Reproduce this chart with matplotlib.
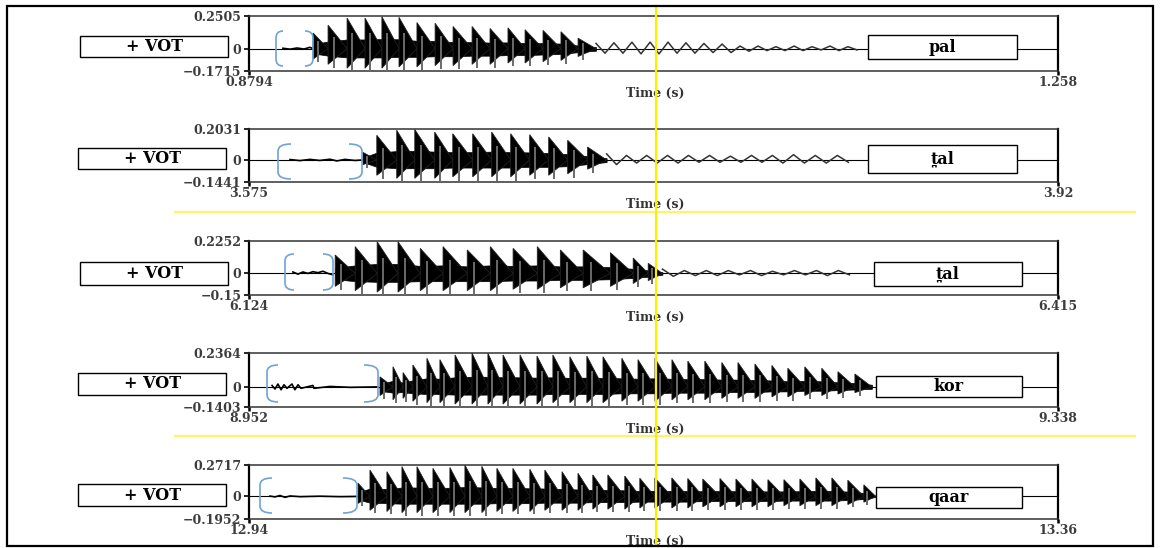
import numpy as np
import matplotlib
matplotlib.use("Agg")
import matplotlib.pyplot as plt
from matplotlib.patches import Rectangle, PathPatch
from matplotlib.path import Path
from matplotlib.lines import Line2D

# ---------------- data ----------------
words = ["pal", "t\u032aal", "t\u032aal", "kor", "qaar"]
vot_label = "+ VOT"
x_start = [0.8794, 3.575, 6.124, 8.952, 12.94]
x_end = [1.258, 3.92, 6.415, 9.338, 13.36]
y_top = [0.2505, 0.2031, 0.2252, 0.2364, 0.2717]
y_bot = [-0.1715, -0.1441, -0.15, -0.1403, -0.1952]
x_tick_labels = [["0.8794", "1.258"], ["3.575", "3.92"], ["6.124", "6.415"],
                 ["8.952", "9.338"], ["12.94", "13.36"]]
y_tick_labels = [["0.2505", "0", "\u22120.1715"], ["0.2031", "0", "\u22120.1441"],
                 ["0.2252", "0", "\u22120.15"], ["0.2364", "0", "\u22120.1403"],
                 ["0.2717", "0", "\u22120.1952"]]
x_label = "Time (s)"

# panel 1 : pal
p1_noise_t = [0.8953, 0.8986, 0.9019, 0.9051, 0.9079, 0.9094]
p1_noise_y = [0.003, -0.004, 0.005, -0.003, 0.01, 0.0]
p1_voiced_t = [0.9094, 0.9164, 0.9253, 0.9337, 0.9416, 0.9496, 0.9580, 0.9665, 0.9749,
               0.9838, 0.9922, 1.0006, 1.0086, 1.0170, 1.0254, 1.0334, 1.0418]
p1_voiced_hi = [0.12, 0.18, 0.235, 0.235, 0.245, 0.24, 0.20, 0.195, 0.17, 0.17, 0.155,
                0.16, 0.145, 0.14, 0.13, 0.08, 0.04]
p1_voiced_lo = [-0.08, -0.12, -0.15, -0.15, -0.15, -0.14, -0.14, -0.13, -0.13, -0.12,
                -0.12, -0.11, -0.11, -0.10, -0.09, -0.06, -0.035]
p1_tail_t = [1.0418, 1.0502, 1.0586, 1.0671, 1.0755, 1.0839, 1.0923, 1.1008, 1.1092,
             1.1176, 1.1260, 1.1345, 1.1429, 1.1513, 1.1597, 1.1682]
p1_tail_hi = [0.04, 0.045, 0.05, 0.05, 0.05, 0.045, 0.04, 0.035, 0.02, 0.02, 0.015,
              0.02, 0.015, 0.02, 0.015, 0.01]
p1_tail_lo = [-0.035, -0.035, -0.04, -0.04, -0.035, -0.035, -0.03, -0.03, -0.02, -0.015,
              -0.015, -0.015, -0.01, -0.015, -0.01, -0.005]

# panel 2 : t̪al
p2_noise_t = [3.5925, 3.5967, 3.6010, 3.6052, 3.6095, 3.6125, 3.6159, 3.6202, 3.6231]
p2_noise_y = [0.003, -0.004, 0.004, -0.003, 0.005, -0.006, 0.004, -0.003, 0.0]
p2_voiced_t = [3.6236, 3.6295, 3.6380, 3.6457, 3.6542, 3.6619, 3.6704, 3.6785, 3.6866,
               3.6947, 3.7028, 3.7109, 3.7194, 3.7275]
p2_voiced_hi = [0.05, 0.162, 0.195, 0.20, 0.183, 0.172, 0.172, 0.183, 0.172, 0.166,
                0.151, 0.129, 0.085, 0.04]
p2_voiced_lo = [-0.03, -0.10, -0.12, -0.12, -0.12, -0.11, -0.11, -0.11, -0.11, -0.10,
                -0.10, -0.09, -0.06, -0.03]
p2_tail_t = [3.7275, 3.7360, 3.7446, 3.7535, 3.7624, 3.7714, 3.7803, 3.7893, 3.7982,
             3.8072, 3.8165, 3.8259, 3.8353]
p2_tail_hi = [0.04, 0.03, 0.03, 0.03, 0.03, 0.03, 0.025, 0.03, 0.03, 0.035, 0.03, 0.03, 0.02]
p2_tail_lo = [-0.03, -0.02, -0.02, -0.02, -0.015, -0.015, -0.015, -0.015, -0.02, -0.02,
              -0.02, -0.015, -0.01]

# panel 3 : t̪al
p3_noise_t = [6.1398, 6.1416, 6.1434, 6.1452, 6.1470, 6.1488, 6.1506, 6.1524, 6.1542]
p3_noise_y = [0.01, -0.005, 0.01, 0.0, 0.012, 0.005, 0.015, 0.0, -0.01]
p3_voiced_t = [6.1550, 6.1622, 6.1701, 6.1776, 6.1856, 6.1938, 6.2025, 6.2108, 6.2190,
               6.2277, 6.2360, 6.2442, 6.2540, 6.2622, 6.2676, 6.2727]
p3_voiced_hi = [0.128, 0.186, 0.22, 0.22, 0.174, 0.186, 0.163, 0.186, 0.174, 0.186,
                0.163, 0.163, 0.144, 0.107, 0.07, 0.03]
p3_voiced_lo = [-0.09, -0.12, -0.13, -0.13, -0.12, -0.12, -0.12, -0.12, -0.11, -0.11,
                -0.10, -0.10, -0.09, -0.07, -0.05, -0.02]
p3_tail_t = [6.2727, 6.2806, 6.2885, 6.2964, 6.3044, 6.3123, 6.3202, 6.3281, 6.3360, 6.3440]
p3_tail_hi = [0.03, 0.02, 0.02, 0.02, 0.02, 0.015, 0.02, 0.02, 0.02, 0.015]
p3_tail_lo = [-0.02, -0.015, -0.015, -0.01, -0.015, -0.01, -0.01, -0.015, -0.01, -0.01]

# panel 4 : kor
p4_noise_t = [8.9630, 8.9644, 8.9658, 8.9673, 8.9687, 8.9701, 8.9725, 8.9739, 8.9754,
              8.9768, 8.9825, 8.9830, 8.9906, 9.0002, 9.0135]
p4_noise_y = [0.01, -0.015, 0.02, -0.02, 0.015, -0.01, 0.02, -0.02, 0.015, -0.01,
              0.01, -0.01, 0.003, -0.003, 0.0]
p4_voiced_t = [9.0145, 9.0207, 9.0255, 9.0302, 9.0369, 9.0431, 9.0503, 9.0584, 9.0660,
               9.0732, 9.0813, 9.0894, 9.0970, 9.1051, 9.1132, 9.1209, 9.1299, 9.1376,
               9.1457, 9.1538, 9.1614, 9.1695, 9.1776, 9.1853, 9.1934, 9.2015, 9.2091,
               9.2172, 9.2253, 9.2330, 9.2411, 9.2492]
p4_voiced_hi = [0.07, 0.141, 0.10, 0.153, 0.20, 0.19, 0.223, 0.236, 0.235, 0.223, 0.223,
                0.215, 0.223, 0.21, 0.215, 0.21, 0.20, 0.19, 0.20, 0.19, 0.18, 0.18, 0.17,
                0.17, 0.16, 0.15, 0.13, 0.14, 0.13, 0.106, 0.09, 0.05]
p4_voiced_lo = [-0.06, -0.09, -0.08, -0.10, -0.11, -0.11, -0.12, -0.12, -0.12, -0.12,
                -0.12, -0.12, -0.11, -0.11, -0.11, -0.11, -0.10, -0.10, -0.10, -0.09,
                -0.09, -0.09, -0.08, -0.08, -0.08, -0.07, -0.07, -0.06, -0.06, -0.05,
                -0.04, -0.03]

# panel 5 : qaar
p5_noise_t = [12.9509, 12.9535, 12.9561, 12.9587, 12.9613, 12.9665, 12.9768, 12.9872, 12.9961]
p5_noise_y = [0.003, -0.004, 0.008, -0.008, 0.004, -0.002, 0.002, -0.002, 0.0]
p5_voiced_t = [12.9966, 13.0028, 13.0116, 13.0194, 13.0272, 13.0355, 13.0443, 13.0521,
               13.0609, 13.0687, 13.0770, 13.0858, 13.0936, 13.1025, 13.1108, 13.1185,
               13.1263, 13.1351, 13.1429, 13.1507, 13.1595, 13.1678, 13.1756, 13.1845,
               13.1928, 13.2011, 13.2094, 13.2177, 13.2260, 13.2343, 13.2426, 13.2509,
               13.2592, 13.2654]
p5_voiced_hi = [0.115, 0.228, 0.214, 0.257, 0.257, 0.243, 0.25, 0.27, 0.26, 0.243, 0.243,
                0.235, 0.228, 0.214, 0.20, 0.186, 0.186, 0.176, 0.157, 0.16, 0.16, 0.155,
                0.15, 0.155, 0.15, 0.15, 0.145, 0.145, 0.15, 0.16, 0.16, 0.14, 0.10, 0.02]
p5_voiced_lo = [-0.06, -0.12, -0.13, -0.14, -0.14, -0.14, -0.14, -0.14, -0.14, -0.13,
                -0.13, -0.13, -0.12, -0.12, -0.12, -0.11, -0.11, -0.11, -0.10, -0.10,
                -0.10, -0.10, -0.09, -0.09, -0.09, -0.09, -0.09, -0.08, -0.08, -0.08,
                -0.08, -0.07, -0.05, -0.01]

noise_t = [p1_noise_t, p2_noise_t, p3_noise_t, p4_noise_t, p5_noise_t]
noise_y = [p1_noise_y, p2_noise_y, p3_noise_y, p4_noise_y, p5_noise_y]
voiced_t = [p1_voiced_t, p2_voiced_t, p3_voiced_t, p4_voiced_t, p5_voiced_t]
voiced_hi = [p1_voiced_hi, p2_voiced_hi, p3_voiced_hi, p4_voiced_hi, p5_voiced_hi]
voiced_lo = [p1_voiced_lo, p2_voiced_lo, p3_voiced_lo, p4_voiced_lo, p5_voiced_lo]
tail_t = [p1_tail_t, p2_tail_t, p3_tail_t, [], []]
tail_hi = [p1_tail_hi, p2_tail_hi, p3_tail_hi, [], []]
tail_lo = [p1_tail_lo, p2_tail_lo, p3_tail_lo, [], []]

# ---------------- layout (pixels) ----------------
W, H, DPI = 1161, 548, 100
AX_L, AX_R = 249, 1058
ax_top_px = [16, 129, 241, 353, 465]
ax_bot_px = [71, 182, 295, 407, 519]
vot_box_px = [(80, 36, 228, 57), (78, 148, 226, 169), (80, 262, 228, 285),
              (78, 373, 226, 395), (78, 484, 226, 506)]
word_box_px = [(868, 35, 1017, 59), (868, 145, 1017, 173), (874, 262, 1022, 286),
               (876, 376, 1022, 397), (876, 487, 1022, 508)]
brackets_px = [(276, 283, 305, 313, 31, 66), (278, 291, 349, 362, 144, 179),
               (285, 294, 323, 333, 254, 290), (267, 278, 364, 378, 365, 402),
               (260, 272, 343, 357, 478, 513)]
FONT = ["DejaVu Serif", "DejaVu Sans"]
PT = 72.0 / DPI  # points per pixel

fig = plt.figure(figsize=(W / DPI, H / DPI), dpi=DPI)
fig.patch.set_facecolor("white")


def fx(px):
    return px / W


def fy(py):
    return 1 - py / H


for i in range(5):
    ax = fig.add_axes([fx(AX_L), fy(ax_bot_px[i]), (AX_R - AX_L) / W,
                       (ax_bot_px[i] - ax_top_px[i]) / H])
    ax.set_xlim(x_start[i], x_end[i])
    ax.set_ylim(y_bot[i], y_top[i])
    ax.set_facecolor("white")
    ax.axhline(0, color="black", lw=0.8, zorder=2)

    # pre-voicing noise
    ax.plot(noise_t[i], noise_y[i], color="black", lw=1.2, zorder=3)

    # voiced pulses: dense core band + decaying spike per glottal pulse
    vt = np.asarray(voiced_t[i])
    vh = np.asarray(voiced_hi[i])
    vl = np.asarray(voiced_lo[i])
    ax.fill_between(vt, vl * 0.45, vh * 0.3, color="black", lw=0.5, zorder=3)
    for k in range(len(vt) - 1):
        ax.fill([vt[k], vt[k], vt[k + 1]], [vh[k], vl[k], 0.0],
                facecolor="black", edgecolor="#222222", lw=0.6, zorder=3)
    # grey deep excursions a little after each pulse onset
    mids = (vt[:-1] * 0.7 + vt[1:] * 0.3)
    ax.vlines(mids, vl[:-1] - 0.025, vh[:-1] * 0.5, color="#6a6a6a", lw=1.4, zorder=3)

    # weak tail (periodic ripple)
    if len(tail_t[i]):
        tt = np.asarray(tail_t[i])
        xs = np.column_stack([tt[:-1], (tt[:-1] + tt[1:]) / 2]).ravel()
        ys = np.column_stack([tail_hi[i][:-1], tail_lo[i][:-1]]).ravel()
        ax.plot(xs, ys, color="#333333", lw=1.1, zorder=3)

    # spines
    for s in ("left", "right"):
        ax.spines[s].set_linewidth(1.6)
        ax.spines[s].set_color("black")
    for s in ("top", "bottom"):
        ax.spines[s].set_linewidth(1.1)
        ax.spines[s].set_color("#333333")

    ax.set_yticks([y_top[i], 0, y_bot[i]])
    ax.set_yticklabels(y_tick_labels[i])
    ax.set_xticks([x_start[i], x_end[i]])
    ax.set_xticklabels(x_tick_labels[i])
    ax.tick_params(axis="y", direction="out", length=5 * PT, width=1.2, pad=2,
                   labelsize=9, labelcolor="#3c3c3c", color="black")
    ax.tick_params(axis="x", direction="out", length=4 * PT, width=1.8, pad=0.5,
                   labelsize=9, labelcolor="#3c3c3c", color="black")
    for lab in ax.get_xticklabels() + ax.get_yticklabels():
        lab.set_fontfamily(FONT)
        lab.set_fontweight("bold")

    ax.annotate(x_label, xy=(0.5, 0), xycoords="axes fraction",
                xytext=(1.5 * PT, -22 * PT), textcoords="offset points",
                ha="center", va="center", fontsize=9, fontweight="bold",
                family=FONT, color="#333333")

    # boxes
    for (bx0, by0, bx1, by1), lab in ((vot_box_px[i], vot_label), (word_box_px[i], words[i])):
        fig.add_artist(Rectangle((fx(bx0), fy(by1)), (bx1 - bx0) / W, (by1 - by0) / H,
                                 transform=fig.transFigure, facecolor="white",
                                 edgecolor="black", lw=1.0, zorder=5))
        fig.text(fx((bx0 + bx1) / 2), fy((by0 + by1) / 2), lab, ha="center", va="center",
                 fontsize=11.5, fontweight="bold", family=FONT, color="black", zorder=6)

    # blue VOT brackets
    lx0, lx1, rx0, rx1, yt, yb = brackets_px[i]
    r = 7
    for outer, inner in ((lx0, lx1), (rx1, rx0)):
        verts = [(inner, yt), (outer, yt), (outer, yt + r), (outer, yb - r),
                 (outer, yb), (inner, yb)]
        verts = [(fx(a), fy(b)) for a, b in verts]
        codes = [Path.MOVETO, Path.CURVE3, Path.CURVE3, Path.LINETO, Path.CURVE3, Path.CURVE3]
        fig.add_artist(PathPatch(Path(verts, codes), transform=fig.transFigure,
                                 facecolor="none", edgecolor="#6FA3D8", lw=1.2, zorder=4))

# yellow guide lines
for yy in (212, 436):
    fig.add_artist(Line2D([fx(175), fx(1135)], [fy(yy), fy(yy)], transform=fig.transFigure,
                          color="#FFF36B", lw=1.6, zorder=6))
fig.add_artist(Line2D([fx(656), fx(656)], [fy(6), fy(546)], transform=fig.transFigure,
                      color="#FFEE00", lw=1.6, zorder=7))

# outer frame
fig.add_artist(Rectangle((fx(7), fy(546)), (1153 - 7) / W, (546 - 6) / H,
                         transform=fig.transFigure, facecolor="none", edgecolor="black",
                         lw=1.6, zorder=8))

fig.savefig("out.png", dpi=DPI, facecolor="white")
